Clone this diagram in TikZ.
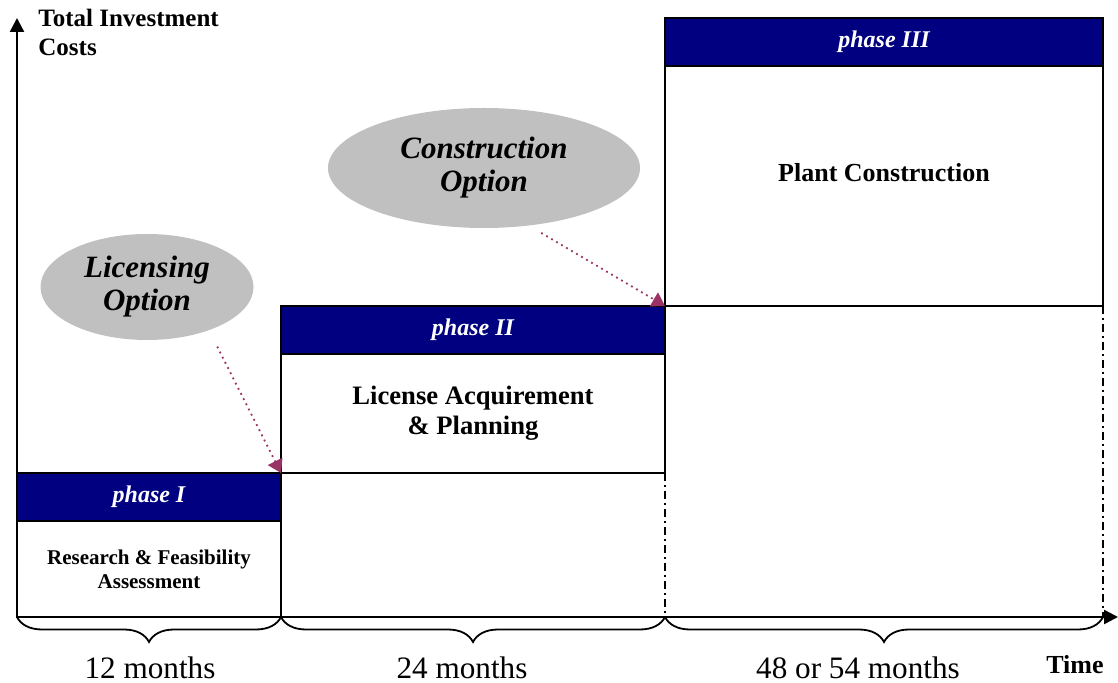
\documentclass[tikz,border=0pt]{standalone}
\usepackage{fontspec}
\setmainfont{Liberation Serif}
\usetikzlibrary{shapes.geometric,arrows.meta,decorations.pathreplacing}
\definecolor{phaseblue}{RGB}{0,0,128}
\definecolor{optiongray}{RGB}{192,192,192}
\definecolor{optionred}{RGB}{153,51,102}

\begin{document}
\begin{tikzpicture}[x=0.5pt,y=-0.5pt,
phaseband/.style={rectangle, draw=black, fill=phaseblue, line width=1.2pt, inner sep=0pt, outer sep=0pt, minimum height=24pt, text=white, font=\fontsize{12}{14}\selectfont\bfseries\itshape},
phasebox/.style={rectangle, draw=black, line width=1.2pt, inner sep=0pt, outer sep=0pt, align=center, font=\bfseries},
optionnode/.style={ellipse, fill=optiongray, inner sep=0pt, align=center, font=\fontsize{15.5}{16.5}\selectfont\bfseries\itshape},
optarrow/.style={optionred, dotted, line width=0.9pt, -{Triangle[length=6.5pt,width=8pt]}},
dashdot/.style={line width=1pt, dash pattern=on 4pt off 2pt on 1pt off 2pt},
bracedeco/.style={decorate, decoration={brace, mirror, amplitude=12.5pt}, line width=0.9pt},
monthlabel/.style={font=\fontsize{15.6}{18}\selectfont}
]
    \useasboundingbox (0,0) rectangle (1118,683);

    % axes
    \coordinate (o) at (17,617);
    \coordinate (ytip) at (17,18);
    \coordinate (xtip) at (1118,617);
    \draw [line width=1.2pt,-{Triangle[length=7pt,width=7pt]}] (o) -- (ytip);
    \draw [line width=1.2pt,-{Triangle[length=7pt,width=7pt]}] (o) -- (xtip);
    \node [anchor=north west, align=left, font=\fontsize{12.5}{14.5}\selectfont\bfseries, inner sep=0pt] (costs) at (38,9) {Total Investment\\Costs};
    \node [font=\fontsize{13}{15}\selectfont\bfseries] (time) at (1075,665) {Time};

    % phase I
    \node [phaseband, minimum width=132pt] (ph1band) at (149,497) {phase I};
    \node [phasebox, minimum width=132pt, minimum height=48pt, font=\fontsize{10.5}{12}\selectfont\bfseries] (ph1box) at (149,569) {Research \& Feasibility\\Assessment};

    % phase II
    \node [phaseband, minimum width=192pt] (ph2band) at (473,330) {phase II};
    \node [phasebox, minimum width=192pt, minimum height=59.5pt, font=\fontsize{13.3}{15}\selectfont\bfseries] (ph2box) at (473,413.5) {License Acquirement\\\& Planning};

    % phase III
    \node [phaseband, minimum width=219pt] (ph3band) at (884,42) {phase III};
    \node [phasebox, minimum width=219pt, minimum height=120pt] (ph3box) at (884,186) {};
    \node [font=\fontsize{13}{15}\selectfont\bfseries] (plant) at (884,173) {Plant Construction};

    \draw [dashdot] (ph2box.south east) -- (ph2box.south east |- o);
    \draw [dashdot] (ph3box.south east) -- (ph3box.south east |- o);

    % options
    \node [optionnode, minimum width=106.5pt, minimum height=53pt] (lic) at (147,287) {Licensing\\Option};
    \node [optionnode, minimum width=156pt, minimum height=60pt] (con) at (484,168) {Construction\\Option};
    \draw [optarrow, shorten <=9pt] (lic.-35) -- (ph1band.north east);
    \draw [optarrow, shorten <=7pt] (con.-52) -- (ph2band.north east);

    % durations
    \draw [bracedeco] (o) -- (ph1box.south east);
    \draw [bracedeco] (ph1box.south east) -- (ph2box.south east |- o);
    \draw [bracedeco] (ph2box.south east |- o) -- (ph3box.south east |- o);
    \node [monthlabel] (m12) at (150,668) {12 months};
    \node [monthlabel] (m24) at (462,668) {24 months};
    \node [monthlabel] (m48) at (858,668) {48 or 54 months};
\end{tikzpicture}
\end{document}
